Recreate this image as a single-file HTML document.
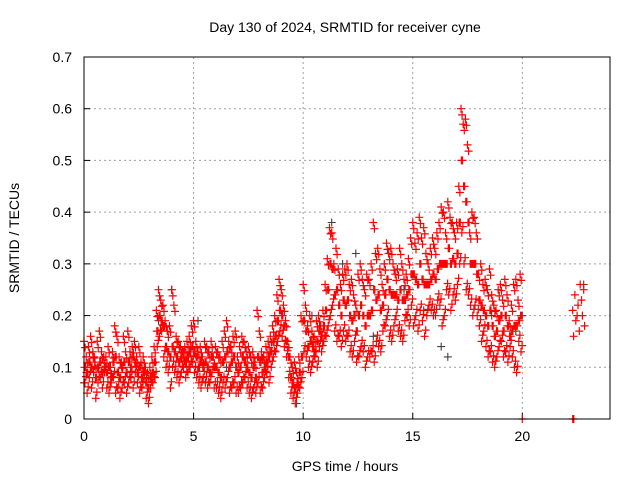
<!DOCTYPE html>
<html><head><meta charset="utf-8"><style>
body{margin:0;background:#fff}
svg{display:block;font-family:"Liberation Sans",sans-serif}
</style></head><body>
<svg id="chart" width="640" height="480">
<rect width="640" height="480" fill="#fff"/>
<text x="345" y="32" text-anchor="middle" font-size="14">Day 130 of 2024, SRMTID for receiver cyne</text>
<text x="345" y="471" text-anchor="middle" font-size="14">GPS time / hours</text>
<text transform="translate(19,238) rotate(-90)" text-anchor="middle" font-size="14">SRMTID / TECUs</text>
<g id="grid"></g><g id="ticks"></g><g id="marks"></g>
<rect x="84" y="57" width="526" height="362" fill="none" stroke="#000" stroke-width="1"/>
</svg>
<script>
const xTicks=[0,5,10,15,20];
const yTicks=[0,0.1,0.2,0.3,0.4,0.5,0.6,0.7];
const yTickLabels=["0","0.1","0.2","0.3","0.4","0.5","0.6","0.7"];
const startHour=0, stepHour=0.1;
const upperVals=[.15,.12,.14,.16,.13,.11,.15,.17,.13,.12,.12,.14,.1,.13,.18,.16,.12,.11,.16,.13,.17,.13,.14,.15,.12,.14,.11,.12,.1,.09,.1,.12,.14,.21,.25,.23,.22,.19,.17,.18,.25,.22,.16,.15,.14,.13,.14,.15,.16,.18,.19,.15,.13,.14,.12,.15,.14,.13,.15,.12,.14,.13,.12,.15,.17,.19,.15,.14,.16,.17,.12,.14,.16,.15,.13,.14,.12,.13,.11,.21,.17,.13,.12,.14,.15,.16,.18,.2,.24,.27,.25,.22,.19,.15,.12,.1,.11,.09,.12,.2,.26,.22,.18,.2,.17,.16,.19,.2,.18,.21,.26,.31,.37,.36,.3,.33,.29,.26,.28,.29,.3,.26,.27,.24,.22,.28,.3,.27,.25,.28,.27,.3,.38,.32,.33,.29,.26,.3,.34,.32,.33,.3,.28,.29,.33,.3,.27,.28,.31,.35,.38,.34,.36,.39,.35,.37,.32,.3,.33,.35,.33,.36,.38,.41,.4,.36,.42,.39,.38,.36,.38,.45,.6,.57,.58,.53,.36,.4,.39,.36,.28,.3,.26,.27,.25,.29,.24,.22,.21,.25,.26,.23,.27,.24,.19,.22,.26,.27,.23,.28];
const midVals=[.1,.09,.11,.1,.12,.08,.1,.11,.09,.1,.09,.1,.08,.11,.12,.09,.08,.1,.11,.09,.11,.1,.12,.11,.09,.1,.08,.09,.07,.06,.08,.09,.11,.17,.2,.19,.18,.14,.13,.12,.14,.13,.12,.11,.12,.13,.11,.12,.13,.14,.13,.12,.1,.11,.1,.11,.1,.09,.12,.1,.1,.09,.08,.11,.12,.13,.1,.11,.12,.1,.09,.1,.12,.11,.1,.09,.08,.1,.08,.12,.11,.09,.1,.11,.12,.13,.15,.16,.19,.21,.2,.18,.15,.12,.08,.07,.06,.07,.09,.12,.19,.17,.14,.15,.14,.13,.15,.17,.16,.18,.21,.25,.3,.29,.24,.25,.22,.2,.23,.22,.23,.2,.19,.2,.17,.2,.22,.2,.18,.2,.2,.21,.25,.23,.24,.21,.22,.24,.27,.25,.24,.24,.24,.23,.25,.23,.23,.24,.25,.28,.28,.27,.26,.3,.27,.26,.26,.26,.27,.28,.27,.29,.3,.3,.3,.3,.33,.3,.31,.3,.32,.38,.5,.45,.42,.38,.3,.3,.3,.28,.23,.22,.21,.2,.18,.21,.18,.16,.17,.19,.2,.17,.2,.18,.16,.17,.18,.18,.19,.2];
const lowerVals=[.07,.05,.08,.06,.09,.04,.07,.08,.06,.09,.06,.05,.07,.08,.05,.06,.04,.06,.07,.05,.07,.08,.06,.09,.07,.05,.06,.08,.04,.03,.06,.07,.08,.14,.16,.17,.12,.1,.09,.06,.1,.09,.08,.07,.09,.1,.08,.09,.1,.11,.09,.08,.07,.06,.08,.07,.06,.07,.09,.06,.06,.05,.04,.07,.06,.08,.05,.06,.07,.05,.05,.06,.07,.08,.06,.05,.04,.06,.05,.07,.05,.06,.08,.09,.07,.1,.12,.13,.15,.17,.16,.14,.12,.08,.05,.04,.03,.05,.06,.08,.13,.12,.1,.09,.11,.12,.1,.14,.13,.15,.16,.18,.2,.22,.17,.15,.16,.14,.17,.15,.16,.13,.12,.15,.11,.12,.14,.13,.1,.12,.12,.13,.11,.15,.14,.13,.17,.18,.2,.16,.15,.18,.2,.17,.16,.15,.19,.2,.18,.22,.18,.2,.17,.21,.19,.16,.2,.22,.21,.2,.2,.23,.22,.18,.2,.25,.24,.21,.24,.23,.26,.3,.36,.3,.25,.24,.22,.2,.22,.2,.18,.15,.17,.14,.12,.13,.11,.1,.12,.14,.15,.12,.13,.11,.14,.12,.1,.09,.15,.13];
const tailHours=[22.3,22.4,22.5,22.6,22.7,22.8];
const tailUpper=[.21,.24,.2,.17,.23,.25];
const tailLower=[.16,.19,.22,.26,.2,.18];
const zeroHours=[20.0,22.3,22.35];
const zeroVals=[0,0,0];
const grayHours=[0.0,1.2,3.4,4.0,5.2,6.5,8.1,9.7,10.4,11.3,11.8,12.4,13.2,14.6,15.5,16.3,16.6,17.8,18.6,19.7,20.0,22.8];
const grayVals=[0.07,0.1,0.19,0.25,0.19,0.1,0.12,0.03,0.2,0.38,0.3,0.32,0.16,0.25,0.21,0.14,0.12,0.3,0.2,0.17,0.2,0.26];

const X0=84,X1=610,Y0=419,Y1=57;
const xs=h=>X0+h/24*(X1-X0);
const ys=v=>Y0-v/0.7*(Y0-Y1);
const NS="http://www.w3.org/2000/svg";
const grid=document.getElementById('grid'),ticks=document.getElementById('ticks'),marks=document.getElementById('marks');
function mk(tag,attrs,parent){const e=document.createElementNS(NS,tag);for(const k in attrs)e.setAttribute(k,attrs[k]);parent.appendChild(e);return e;}
xTicks.forEach(t=>{
  const x=xs(t);
  if(t>0){const g=mk('line',{x1:x,x2:x,y1:Y0,y2:Y1,stroke:'#a0a0a0','stroke-dasharray':'2,3'},grid);
  
  }
  const tk=mk('line',{x1:x,x2:x,y1:Y0,y2:Y0-6,stroke:'#000'},ticks);
  
  
  const l=mk('text',{x:x,y:Y0+22,'text-anchor':'middle','font-size':'14'},ticks);l.textContent=t;
  
  
});
yTicks.forEach((t,i)=>{
  const y=ys(t);
  if(i>0&&i<yTicks.length-1){const g=mk('line',{x1:X0,x2:X1,y1:y,y2:y,stroke:'#a0a0a0','stroke-dasharray':'2,3'},grid);
  
  }
  const tk=mk('line',{x1:X0,x2:X0+6,y1:y,y2:y,stroke:'#000'},ticks);
  
  
  const l=mk('text',{x:X0-12,y:y+5,'text-anchor':'end','font-size':'14'},ticks);l.textContent=yTickLabels[i];
  
  
});
function plus(d,h,v){const x=xs(h),y=ys(v);return d+`M${(x-4).toFixed(1)} ${y.toFixed(1)}h8M${x.toFixed(1)} ${(y-4).toFixed(1)}v8`;}
let gd='';grayHours.forEach((h,i)=>gd=plus(gd,h,grayVals[i]));
const gp=mk('path',{d:gd,stroke:'#404040','stroke-width':1.1,fill:'none'},marks);


let rd='';
[upperVals,midVals,lowerVals].forEach((arr,k)=>arr.forEach((v,i)=>{
  const h=startHour+i*stepHour+k*0.02;
  rd=plus(rd,h,v);
  rd=plus(rd,h+0.05,v+0.012*(k-1));
}));
tailHours.forEach((h,i)=>{rd=plus(rd,h,tailUpper[i]);rd=plus(rd,h+0.04,tailLower[i]);});
zeroHours.forEach((h,i)=>{rd=plus(rd,h,zeroVals[i]);});
const rp=mk('path',{d:rd,stroke:'#ff0000','stroke-width':1.2,fill:'none'},marks);


</script>
</body></html>
